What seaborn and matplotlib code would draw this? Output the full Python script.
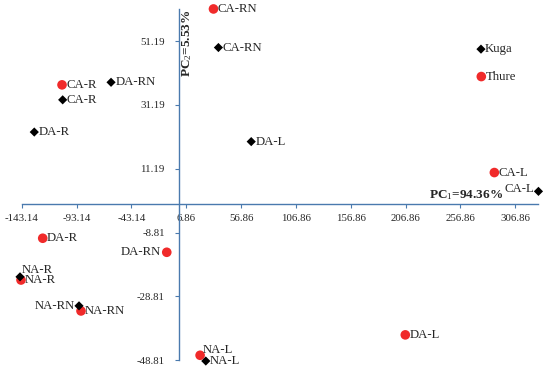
import matplotlib
matplotlib.use("Agg")
import matplotlib.pyplot as plt
import seaborn as sns
import numpy as np
import pandas as pd

# PCA scores
red_names = ["CA-RN", "CA-R", "Thure", "CA-L", "DA-R", "DA-RN", "NA-R", "NA-RN", "NA-L", "DA-L"]
red_x = [31.7, -106.4, 275.9, 287.8, -124.0, -10.9, -143.8, -89.1, 19.5, 206.6]
red_y = [61.3, 37.5, 40.1, 10.0, -10.6, -15.0, -23.7, -33.4, -47.3, -40.9]

black_names = ["CA-RN", "DA-RN", "CA-R", "DA-R", "DA-L", "Kuga", "CA-L", "NA-R", "NA-RN", "NA-L"]
black_x = [36.2, -61.7, -105.8, -131.7, 66.1, 275.6, 328.0, -144.7, -90.9, 24.7]
black_y = [49.2, 38.3, 32.8, 22.7, 19.7, 48.7, 4.1, -22.7, -31.8, -49.1]

x_ticks = [-143.14, -93.14, -43.14, 6.86, 56.86, 106.86, 156.86, 206.86, 256.86, 306.86]
y_ticks = [-48.81, -28.81, -8.81, 11.19, 31.19, 51.19]

df = pd.DataFrame({
    "x": red_x + black_x,
    "y": red_y + black_y,
    "name": red_names + black_names,
    "grp": ["red"] * len(red_x) + ["black"] * len(black_x),
})

sns.set_style("white")
plt.rcParams["font.family"] = ["Liberation Serif", "DejaVu Serif"]
plt.rcParams["mathtext.fontset"] = "custom"
plt.rcParams["mathtext.rm"] = "Liberation Serif"
plt.rcParams["mathtext.it"] = "Liberation Serif"
plt.rcParams["mathtext.bf"] = "Liberation Serif:bold"
plt.rcParams["axes.unicode_minus"] = False

fig = plt.figure(figsize=(5.5, 3.72), dpi=100)
ax = fig.add_axes([0.0395, 0.032, 0.9395, 0.943])

axcol = "#4a7aae"
sns.scatterplot(data=df[df.grp == "red"], x="x", y="y", ax=ax, color="#f02a2a",
                marker="o", s=48, edgecolor="none", clip_on=False, zorder=3)
sns.scatterplot(data=df[df.grp == "black"], x="x", y="y", ax=ax, color="black",
                marker="D", s=22, edgecolor="none", clip_on=False, zorder=3)

ax.set_xlim(-143.14, 328)
ax.set_ylim(-48.81, 61.19)
ax.set_xticks(x_ticks)
ax.set_yticks(y_ticks)
ax.set_xticklabels([f"{v:.2f}" for v in x_ticks])
ax.set_yticklabels([f"{v:.2f}" for v in y_ticks])
ax.set_xlabel("")
ax.set_ylabel("")

for s in ["top", "right"]:
    ax.spines[s].set_visible(False)
ax.spines["left"].set_position(("data", 0))
ax.spines["bottom"].set_position(("data", 0))
ax.spines["left"].set_color(axcol)
ax.spines["bottom"].set_color(axcol)
ax.spines["left"].set_linewidth(1.0)
ax.spines["bottom"].set_linewidth(1.0)
ax.tick_params(axis="x", direction="out", length=3, color=axcol, pad=4, labelsize=7.8)
ax.tick_params(axis="y", direction="out", length=3, color=axcol, pad=7, labelsize=7.8)
ax.tick_params(axis="both", bottom=True, left=True)

# point labels: (group, name) -> offset (points), ha
offsets = {
    ("red", "DA-RN"): ((-4, 0), "right"),
    ("black", "NA-RN"): ((-3, 0), "right"),
    ("black", "CA-L"): ((-3, 2), "right"),
    ("black", "NA-R"): ((1, 5), "left"),
    ("red", "NA-L"): ((2, 4), "left"),
}
for _, r in df.iterrows():
    off, ha = offsets.get((r.grp, r["name"]), ((3, 0), "left"))
    ax.annotate(r["name"], (r.x, r.y), xytext=off, textcoords="offset points",
                ha=ha, va="center", fontsize=9.2, annotation_clip=False)

ax.annotate("PC$_1$=94.36%", (296, 0), xytext=(0, 2), textcoords="offset points",
            ha="right", va="bottom", fontsize=9.5, fontweight="bold")
ax.annotate("PC$_2$=5.53%", (0, 61.19), xytext=(1, 0), textcoords="offset points",
            ha="left", va="top", rotation=90, fontsize=9.5, fontweight="bold")

fig.savefig("out.png", dpi=100)
